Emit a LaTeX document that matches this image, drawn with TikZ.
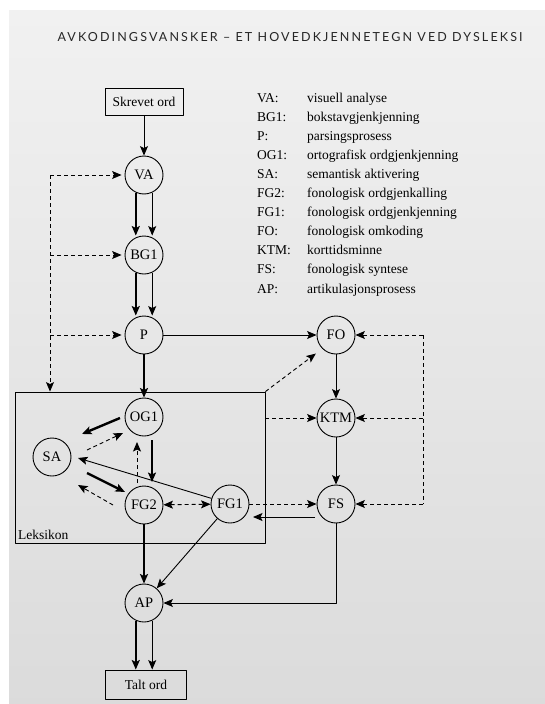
\documentclass[tikz,border=0pt]{standalone}
\usepackage{fontspec}
\setmainfont{Liberation Serif}
\newfontfamily\headfont[LetterSpace=17]{Lato}
\usetikzlibrary{arrows.meta,calc}

\tikzset{
  proc/.style={circle, draw, minimum size=38pt, inner sep=0pt, line width=.9pt, font=\fontsize{14.5}{16}\selectfont},
  iobox/.style={rectangle, draw, inner sep=0pt, line width=.9pt},
  heavy/.style={line width=2.4pt},
  light/.style={line width=.9pt},
  dashy/.style={dash pattern=on 4pt off 3pt, line width=.9pt}
}

\begin{document}
\begin{tikzpicture}[x=1pt, y=-1pt, >={Stealth[length=9.5pt,width=8pt,inset=2pt]}, line join=round, font=\fontsize{13.5}{16}\selectfont]
			\useasboundingbox (0,0) rectangle (545,704);
			% page
			\fill[white] (0,0) rectangle (545,704);
			\shade[top color=gray!11, bottom color=gray!28] (9,10) rectangle (545,704);
			\node[text=black!85] (title) at (290,37) {\headfont\fontsize{12.5}{14}\selectfont AVKODINGSVANSKER – ET HOVEDKJENNETEGN VED DYSLEKSI};
			% legend
			\foreach \ab/\txt [count=\i from 0] in {VA/visuell analyse, BG1/bokstavgjenkjenning, P/parsingsprosess, OG1/ortografisk ordgjenkjenning, SA/semantisk aktivering, FG2/fonologisk ordgjenkalling, FG1/fonologisk ordgjenkjenning, FO/fonologisk omkoding, KTM/korttidsminne, FS/fonologisk syntese, AP/artikulasjonsprosess}{
				\node[anchor=base west, inner sep=0pt] (ab\i) at (257,{102+19.1*\i}) {\ab:};
				\node[anchor=base west, inner sep=0pt] (tx\i) at (307,{102+19.1*\i}) {\txt};
			}
			% lexicon
			\node[draw, light, minimum width=250pt, minimum height=151pt] (leks) at (140,467.5) {};
			\node[anchor=base west, inner sep=0pt] (lekslbl) at (18,539) {Leksikon};
			% nodes
			\node[iobox, minimum width=78pt, minimum height=27pt] (skrevet) at (144,101.5) {Skrevet ord};
			\node[proc] (va) at (144,175) {VA};
			\node[proc] (bg) at (144,255) {BG1};
			\node[proc] (p) at (144,335) {P};
			\node[proc] (og) at (144,417) {OG1};
			\node[proc] (sa) at (52,457) {SA};
			\node[proc] (fgto) at (144,505) {FG2};
			\node[proc] (fgen) at (230,504) {FG1};
			\node[proc] (fo) at (336,335) {FO};
			\node[proc] (ktm) at (336,418) {KTM};
			\node[proc] (fs) at (336,504) {FS};
			\node[proc] (ap) at (144,603) {AP};
			\node[iobox, minimum width=81pt, minimum height=29pt] (talt) at (146,684.5) {Talt ord};
			\coordinate (lt) at (50,175);
			\coordinate (rt) at (423,335);
			% main route
			\draw[light,->] (skrevet) -- (va);
			\draw[heavy,->] (va.-115) -- (va.-115 |- bg.north);
			\draw[light,->] (va.-65) -- (va.-65 |- bg.north);
			\draw[heavy,->] (bg.-115) -- (bg.-115 |- p.north);
			\draw[light,->] (bg.-65) -- (bg.-65 |- p.north);
			\draw[heavy,->] (p) -- (og);
			\draw[light,->] (p) -- (fo);
			\draw[light,->] (fo) -- (ktm);
			\draw[light,->] (ktm) -- (fs);
			% feedback
			\draw[dashy,->] (lt) -- (lt |- leks.north);
			\draw[dashy,->,shorten >=3pt] (lt) -- (va);
			\draw[dashy,->,shorten >=3pt] (lt |- bg) -- (bg);
			\draw[dashy,->,shorten >=3pt] (lt |- p) -- (p);
			\draw[dashy] (rt) -- (rt |- fs);
			\draw[dashy,->] (rt) -- (fo);
			\draw[dashy,->] (rt |- ktm) -- (ktm);
			\draw[dashy,->] (rt |- fs) -- (fs);
			\draw[dashy,->,shorten >=8pt] (leks.north east) -- (fo.225);
			\draw[dashy,->] (leks.east |- ktm) -- (ktm);
			% inside the lexicon
			\draw[heavy,->] ($(og)+(-24,1)$) -- ($(sa)+(30,-23)$);
			\draw[dashy,->] ($(sa)+(35,-7)$) -- ($(og)+(-21,16)$);
			\draw[heavy,->] ($(og)+(8,23)$) -- ($(fgto)+(8,-23)$);
			\draw[dashy,->] ($(fgto)+(-7,-22)$) -- ($(og)+(-7,25)$);
			\draw[light,->] (fgen) -- ($(sa)+(26,1)$);
			\draw[heavy,->] ($(sa)+(35,16)$) -- ($(fgto)+(-19,-13)$);
			\draw[dashy,->] ($(fgto)+(-31,0)$) -- ($(sa)+(26,28)$);
			\draw[dashy,<->] (fgto) -- (fgen);
			\draw[dashy,->] (fgen) -- (fs);
			\draw[light,->] ($(fs)+(-21,13)$) -- ($(fgen)+(23,13)$);
			% output
			\draw[heavy,->] (fgto) -- (ap);
			\draw[light,->] (fgen) -- (ap);
			\draw[light,->] (fs) |- (ap);
			\draw[heavy,->] (ap.-115) -- (ap.-115 |- talt.north);
			\draw[light,->] (ap.-65) -- (ap.-65 |- talt.north);
		\end{tikzpicture}
\end{document}
